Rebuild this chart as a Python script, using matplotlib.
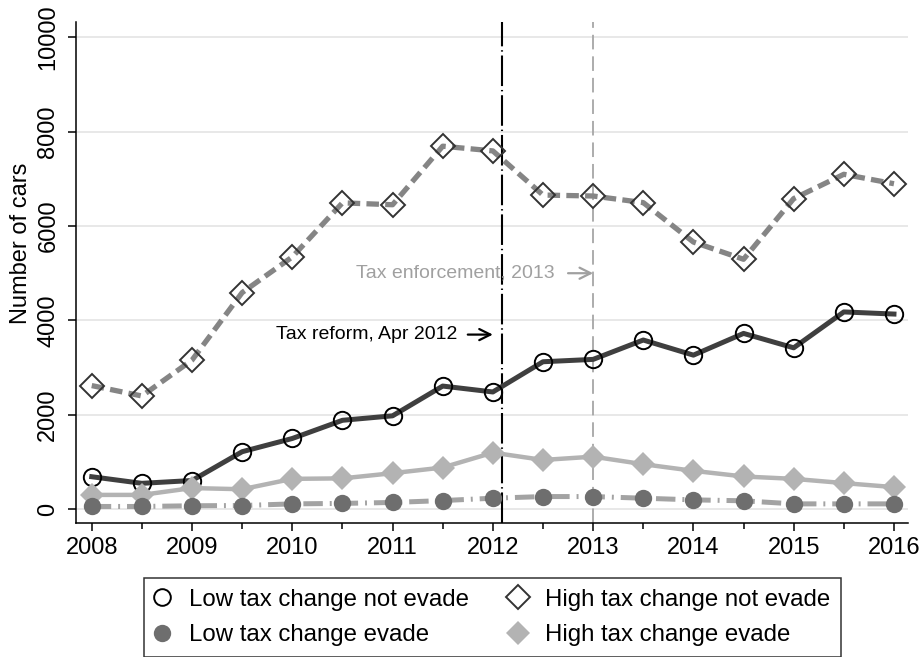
import matplotlib
matplotlib.use("Agg")
import matplotlib.pyplot as plt
from matplotlib.lines import Line2D

plt.rcParams['font.family'] = ['Liberation Sans', 'DejaVu Sans']
plt.rcParams['lines.scale_dashes'] = False

# ---- data ----
periods = [2008.0, 2008.5, 2009.0, 2009.5, 2010.0, 2010.5, 2011.0, 2011.5, 2012.0,
           2012.5, 2013.0, 2013.5, 2014.0, 2014.5, 2015.0, 2015.5, 2016.0]
low_not_evade = [690, 550, 610, 1220, 1500, 1885, 1980, 2610, 2485,
                 3125, 3175, 3585, 3265, 3725, 3420, 4180, 4135]
high_not_evade = [2620, 2400, 3160, 4590, 5345, 6490, 6450, 7690, 7590,
                  6655, 6635, 6495, 5660, 5295, 6580, 7095, 6895]
high_evade = [305, 305, 450, 425, 645, 655, 765, 885, 1200,
              1045, 1115, 955, 815, 695, 645, 555, 470]
low_evade = [60, 60, 75, 80, 115, 125, 145, 185, 235,
             270, 270, 235, 200, 180, 115, 115, 115]
series_labels = ["Low tax change not evade", "High tax change not evade",
                 "Low tax change evade", "High tax change evade"]
xticks = [2008, 2009, 2010, 2011, 2012, 2013, 2014, 2015, 2016]
yticks = [0, 2000, 4000, 6000, 8000, 10000]
reform_x = 2012.09
enforce_x = 2013.0

fig = plt.figure(figsize=(9.22, 6.57), dpi=100)
ax = fig.add_axes([76/922, 1-523/657, (908-76)/922, (523-22)/657])

ax.set_xlim(2007.843, 2016.14)
ax.set_ylim(-290, 10320)

for yv in yticks:
    ax.axhline(yv, color='#e6e6e6', lw=1.3, zorder=0)

# vertical event lines
ax.axvline(reform_x, color='black', lw=1.5, dashes=(22, 2.8, 1.0, 2.8), zorder=1)
ax.axvline(enforce_x, color='#a6a6a6', lw=1.3, dashes=(10.5, 5), zorder=1)

# series
ax.plot(periods, low_not_evade, color='#3f3f3f', lw=3.6, zorder=3,
        marker='o', ms=12.5, mfc='none', mec='black', mew=1.4)
ax.plot(periods, high_not_evade, color='#858585', lw=3.8, dashes=(9, 4.5), zorder=3,
        marker='D', ms=11.8, mfc='none', mec='#333333', mew=1.4)
ax.plot(periods, high_evade, color='#b3b3b3', lw=3.2, zorder=4,
        marker='D', ms=12.5, mfc='#b3b3b3', mec='#b3b3b3', mew=0)
ax.plot(periods, low_evade, color='#a3a3a3', lw=3.6, dashes=(14, 5, 1.4, 5), zorder=5,
        marker='o', ms=12.5, mfc='#6e6e6e', mec='#6e6e6e', mew=0)

# annotations
ax.text(2011.645, 3700, "Tax reform, Apr 2012", ha='right', va='center',
        fontsize=14, color='black')
ax.annotate('', xy=(2012.0, 3700), xytext=(2011.75, 3700),
            arrowprops=dict(arrowstyle='->', color='black', lw=1.6,
                            shrinkA=0, shrinkB=0, mutation_scale=20))
ax.text(2012.62, 5000, "Tax enforcement, 2013", ha='right', va='center',
        fontsize=14, color='#a0a0a0')
ax.annotate('', xy=(2013.0, 5000), xytext=(2012.75, 5000),
            arrowprops=dict(arrowstyle='->', color='#a0a0a0', lw=1.6,
                            shrinkA=0, shrinkB=0, mutation_scale=20))

# axes styling
for s in ['top', 'right']:
    ax.spines[s].set_visible(False)
for s in ['left', 'bottom']:
    ax.spines[s].set_linewidth(1.1)
ax.set_xticks(xticks)
ax.set_xticklabels([str(t) for t in xticks], fontsize=17)
ax.set_xticks(periods, minor=True)
ax.tick_params(axis='x', which='major', length=6, width=1.1, pad=4)
ax.tick_params(axis='x', which='minor', length=4, width=1.1)
ax.set_yticks(yticks)
ax.set_yticklabels([str(t) for t in yticks], fontsize=17, rotation=90, va='center')
ax.tick_params(axis='y', length=6, width=1.1, pad=6)
ax.set_ylabel("Number of cars", fontsize=17)
ax.yaxis.set_label_coords(-0.053, (523 - 243) / (523 - 22))

# legend
handles = [
    Line2D([], [], ls='none', marker='o', ms=12, mfc='none', mec='black', mew=1.4),
    Line2D([], [], ls='none', marker='o', ms=12.5, mfc='#6e6e6e', mec='#6e6e6e', mew=0),
    Line2D([], [], ls='none', marker='D', ms=11.8, mfc='none', mec='#333333', mew=1.4),
    Line2D([], [], ls='none', marker='D', ms=12.5, mfc='#b3b3b3', mec='#b3b3b3', mew=0),
]
labels = [series_labels[0], series_labels[2], series_labels[1], series_labels[3]]
leg = fig.legend(handles, labels, loc='upper center', bbox_to_anchor=(492.5/922, 1-578/657),
                 ncol=2, fontsize=17.3, frameon=True, fancybox=False, edgecolor='black',
                 handlelength=0.6, handletextpad=0.85, columnspacing=1.7,
                 labelspacing=0.55, borderpad=0.45, borderaxespad=0)
leg.get_frame().set_linewidth(1.1)

fig.savefig("out.png", dpi=100)
